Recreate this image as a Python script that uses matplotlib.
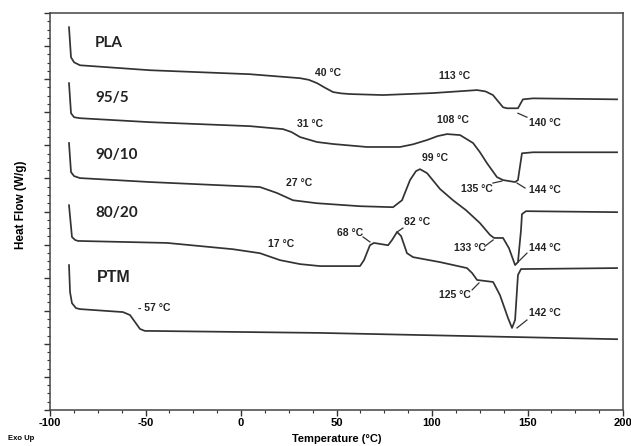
import matplotlib
matplotlib.use("Agg")
import matplotlib.pyplot as plt
from matplotlib.ticker import MultipleLocator, NullFormatter

# DSC traces, temperature (°C) vs heat flow (arbitrary offset units)
pla_t = [-90.05, -89.0, -87.4, -84.3, -47.6, 4.7, 30.9, 35.5, 39.8, 44.0, 48.2, 52.5, 57.1,
         74.3, 100.5, 123.6, 128.0, 131.9, 137.2, 139.3, 145.0, 147.6, 152.9, 196.9]
pla_hf = [11.57, 10.66, 10.51, 10.42, 10.27, 10.15, 10.03, 9.98, 9.88, 9.74, 9.61, 9.57, 9.55,
          9.52, 9.58, 9.67, 9.63, 9.52, 9.15, 9.12, 9.12, 9.39, 9.42, 9.39]

b95_t = [-90.05, -89.0, -87.4, -84.3, -47.6, 4.7, 22.0, 26.5, 30.9, 39.8, 48.2, 66.0,
         83.2, 90.0, 97.4, 103.0, 107.9, 114.7, 121.5, 125.0, 128.8, 134.0, 137.2, 143.5,
         145.0, 147.1, 152.9, 196.9]
b95_hf = [9.88, 8.97, 8.85, 8.82, 8.70, 8.58, 8.49, 8.40, 8.25, 8.10, 8.04, 7.95,
          7.95, 8.03, 8.16, 8.28, 8.34, 8.31, 8.07, 7.80, 7.46, 7.04, 6.95, 6.89,
          6.95, 7.76, 7.79, 7.79]

b90_t = [-90.05, -89.0, -87.4, -84.3, -47.6, 9.9, 18.8, 27.2, 39.8, 62.3, 79.6, 84.3,
         88.5, 91.6, 93.7, 97.4, 104.2, 111.0, 117.8, 125.1, 130.4, 132.5, 137.2, 140.3,
         143.5, 145.0, 146.6, 147.1, 149.2, 196.9]
b90_hf = [8.07, 7.19, 7.07, 7.01, 6.89, 6.74, 6.56, 6.34, 6.25, 6.16, 6.13, 6.34,
          6.95, 7.22, 7.28, 7.16, 6.68, 6.34, 6.04, 5.65, 5.29, 5.20, 5.20, 4.89,
          4.38, 4.47, 5.44, 5.92, 6.01, 5.98]

b80_t = [-90.05, -88.5, -86.9, -85.3, -38.7, -4.2, 9.9, 20.4, 30.9, 41.4, 62.3, 64.4,
         67.5, 69.6, 77.0, 79.1, 81.7, 83.8, 86.9, 90.1, 104.2, 118.3, 121.0, 123.6,
         132.0, 135.6, 139.8, 141.9, 143.5, 145.0, 146.6, 196.9]
b80_hf = [6.19, 5.23, 5.14, 5.11, 5.05, 4.86, 4.74, 4.53, 4.41, 4.35, 4.35, 4.53,
          4.98, 5.05, 4.98, 5.14, 5.38, 5.26, 4.74, 4.62, 4.47, 4.29, 4.14, 3.93,
          3.87, 3.47, 2.78, 2.48, 2.72, 4.08, 4.26, 4.29]

ptm_t = [-90.05, -89.5, -88.5, -86.4, -84.3, -61.8, -58.1, -55.5, -52.9, -50.3, -47.6, 41.4, 196.9]
ptm_hf = [4.38, 3.56, 3.23, 3.08, 3.05, 2.96, 2.87, 2.66, 2.45, 2.39, 2.39, 2.33, 2.14]

# sample names and their label anchor
names = ["PLA", "95/5", "90/10", "80/20", "PTM"]
name_t = [-76.4, -76.4, -76.4, -76.4, -75.4]
name_hf = [11.09, 9.43, 7.70, 5.95, 4.02]

# peak / transition annotations: text, text position, optional leader line
ann_text = ["40 °C", "113 °C", "140 °C", "31 °C", "108 °C", "135 °C", "144 °C",
            "27 °C", "99 °C", "133 °C", "144 °C", "17 °C", "68 °C", "82 °C",
            "125 °C", "142 °C", "- 57 °C"]
ann_t = [45.5, 112.0, 159.2, 36.1, 111.0, 123.6, 159.2,
         30.4, 101.6, 119.9, 159.2, 20.9, 57.1, 92.1,
         112.0, 159.2, -45.5]
ann_hf = [10.18, 10.09, 8.67, 8.64, 8.76, 6.68, 6.65,
          6.86, 7.61, 4.89, 4.89, 5.02, 5.35, 5.68,
          3.47, 2.93, 3.08]
lead_t = [None, None, (145.0, 149.7), None, None, (131.9, 136.6), (144.5, 148.7),
          None, None, (127.7, 132.0), (145.0, 149.7), None, (63.9, 67.5), (81.7, 84.8),
          (121.0, 124.6), (144.5, 149.7), None]
lead_hf = [None, None, (8.97, 8.85), None, None, (6.86, 6.92), (6.86, 6.71),
           None, None, (4.95, 5.14), (4.47, 4.74), None, (5.23, 5.08), (5.38, 5.50),
           (3.63, 3.84), (2.48, 2.72), None]

plt.rcParams["axes.unicode_minus"] = False
line_color = "#333333"
bold = dict(family="Liberation Sans", weight="bold")

fig = plt.figure(figsize=(6.31, 4.46), dpi=100)
ax = fig.add_axes([50 / 631, 36 / 446, 573 / 631, 397 / 446])

for t, hf in [(pla_t, pla_hf), (b95_t, b95_hf), (b90_t, b90_hf), (b80_t, b80_hf), (ptm_t, ptm_hf)]:
    ax.plot(t, hf, color=line_color, lw=1.25, solid_joinstyle="round")

for i, name in enumerate(names):
    family = "Liberation Sans" if name == "PTM" else "Lato"
    ax.text(name_t[i], name_hf[i], name, family=family, weight="bold",
            fontsize=11.5 if name == "PTM" else 11, va="center", ha="left", color="#222222")

for i, txt in enumerate(ann_text):
    ax.text(ann_t[i], ann_hf[i], txt, fontsize=7.5, ha="center", va="center", color="#222222", **bold)
    if lead_t[i] is not None:
        ax.plot(lead_t[i], lead_hf[i], color=line_color, lw=0.9)

ax.set_xlim(-100, 200)
ax.set_ylim(0, 12)
ax.xaxis.set_major_locator(MultipleLocator(50))
ax.xaxis.set_minor_locator(MultipleLocator(12.5))
ax.yaxis.set_major_locator(MultipleLocator(1))
ax.yaxis.set_minor_locator(MultipleLocator(0.25))
ax.yaxis.set_major_formatter(NullFormatter())
ax.tick_params(which="major", direction="out", length=4, width=1, color="#333333", pad=2)
ax.tick_params(which="minor", direction="out", length=2.5, width=0.8, color="#333333")
for lab in ax.get_xticklabels():
    lab.set_fontfamily("Liberation Sans")
    lab.set_fontweight("bold")
    lab.set_fontsize(8)
for spine in ax.spines.values():
    spine.set_color("#444444")
    spine.set_linewidth(1.1)

ax.set_xlabel("Temperature (°C)", fontsize=8, labelpad=4, **bold)
fig.text(21 / 631, 1 - 205 / 446, "Heat Flow (W/g)", rotation=90, fontsize=8.5,
         ha="center", va="center", **bold)
fig.text(8 / 631, 1 - 439 / 446, "Exo Up", fontsize=5.5, ha="left", va="center", **bold)

fig.savefig("out.png", dpi=100)
